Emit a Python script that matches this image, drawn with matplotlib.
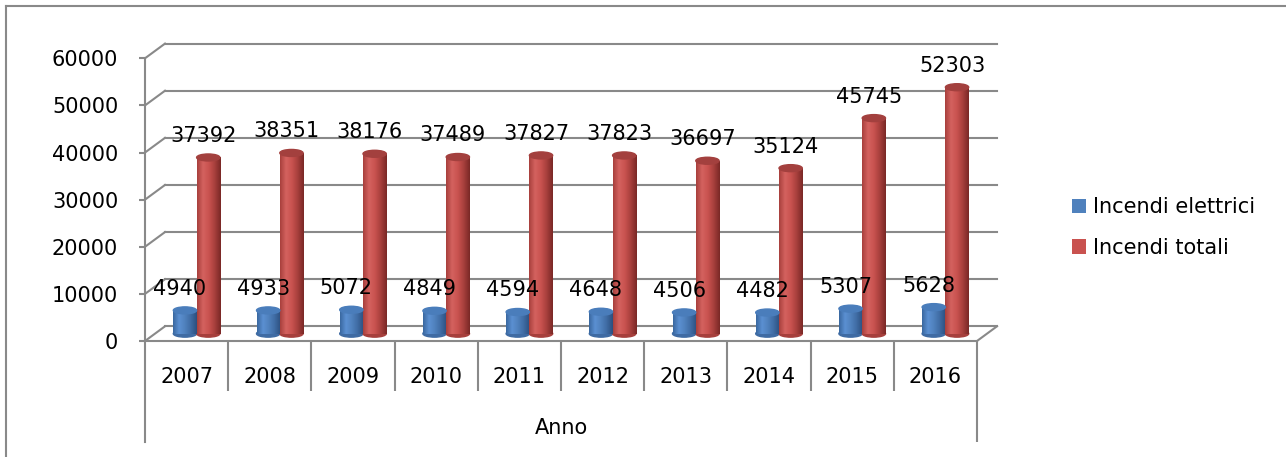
import matplotlib.pyplot as plt
import numpy as np
from matplotlib.patches import Ellipse, Patch
from matplotlib.lines import Line2D
from matplotlib.colors import LinearSegmentedColormap

anni = ["2007", "2008", "2009", "2010", "2011", "2012", "2013", "2014", "2015", "2016"]
elettrici = [4940, 4933, 5072, 4849, 4594, 4648, 4506, 4482, 5307, 5628]
totali = [37392, 38351, 38176, 37489, 37827, 37823, 36697, 35124, 45745, 52303]
serie = ["Incendi elettrici", "Incendi totali"]
yticks = [0, 10000, 20000, 30000, 40000, 50000, 60000]
titolo_x = "Anno"

W, H = 1286, 457
plt.rcParams['font.family'] = 'DejaVu Sans'
plt.rcParams['font.size'] = 15
fig = plt.figure(figsize=(W / 100, H / 100), dpi=100)

# layout in pixel (dall'alto)
left_px, right_px = 145, 977
bottom_px, top_px = 442, 40
zero_px = 341
px_per_unit = 282.7 / 60000

ax = fig.add_axes([left_px / W, (H - bottom_px) / H,
                   (right_px - left_px) / W, (bottom_px - top_px) / H])
ylo = -(bottom_px - zero_px) / px_per_unit
yhi = (zero_px - top_px) / px_per_unit
n = len(anni)
cat_px = (right_px - left_px) / n
dx = 20 / cat_px
dy = 14.7 / px_per_unit
grigio = '#898989'
lw = 1.5

# pareti 3D: griglia sul fondo + diagonali
for v in yticks:
    ax.plot([dx, n + dx], [v + dy, v + dy], color=grigio, lw=lw, zorder=1, clip_on=False)
    ax.plot([0, dx], [v, v + dy], color=grigio, lw=lw, zorder=1, clip_on=False)
# pavimento
ax.plot([0, n], [0, 0], color=grigio, lw=lw, zorder=1, clip_on=False)
ax.plot([n, n + dx], [0, dy], color=grigio, lw=lw, zorder=1, clip_on=False)

# separatori categorie
ysep = -(391 - zero_px) / px_per_unit
ax.vlines(range(1, n), ysep, 0, color=grigio, lw=lw, clip_on=False)
ax.vlines([n], ylo, 0, color=grigio, lw=lw, clip_on=False)

bw = 0.28
eh = 7 / px_per_unit
grad = np.linspace(0, 1, 64).reshape(1, -1)
blu = ['#3a68a0', '#5b90d2', '#4f81bd', '#3f6ba3', '#2c4f7e']
rosso = ['#a8403d', '#d4625f', '#c9524f', '#a63f3c', '#7a2826']


def cilindro(xl, val, colori, cap):
    base = dy / 2
    top = val + dy / 2
    cmap = LinearSegmentedColormap.from_list('c', colori)
    ax.add_patch(Ellipse((xl + bw / 2, base), bw, eh, color=colori[3], zorder=3))
    rect = ax.bar(xl, val, bw, bottom=base, align='edge', color='none', zorder=4)[0]
    im = ax.imshow(grad, cmap=cmap, extent=[xl, xl + bw, base, top], aspect='auto', zorder=4)
    im.set_clip_path(rect)
    ax.add_patch(Ellipse((xl + bw / 2, top), bw, eh, color=cap, zorder=5))
    ax.annotate(str(val), xy=(xl + bw / 2, top), xytext=(-5, 15.6),
                textcoords='offset pixels', ha='center', va='baseline', zorder=6)


for i in range(n):
    c = i + 0.5 + dx / 2
    cilindro(c - bw, elettrici[i], blu, '#4a7dbb')
    cilindro(c, totali[i], rosso, '#a3403e')

# etichette categorie
ycat = -(382.7 - zero_px) / px_per_unit
for i, a in enumerate(anni):
    ax.text(i + 0.5, ycat, a, ha='center', va='baseline')
ax.text(n / 2, -(434.5 - zero_px) / px_per_unit, titolo_x, ha='center', va='baseline')

ax.set_xlim(0, n)
ax.set_ylim(ylo, yhi)
for s in ['top', 'right', 'bottom']:
    ax.spines[s].set_visible(False)
ax.spines['left'].set_bounds(ylo, 60000)
ax.spines['left'].set_color(grigio)
ax.spines['left'].set_linewidth(lw)
ax.set_xticks([])
ax.set_yticks(yticks)
ax.tick_params(axis='y', length=4.3, width=lw, color=grigio, pad=15, labelsize=15)
ax.patch.set_visible(False)

fig.legend(handles=[Patch(facecolor=blu[2]), Patch(facecolor=rosso[2])], labels=serie,
           loc='upper left', bbox_to_anchor=(1072 / W, 1 - 197 / H), frameon=False,
           borderpad=0, borderaxespad=0, handlelength=0.67, handleheight=0.67,
           handletextpad=0.35, labelspacing=1.0, fontsize=15)

# cornice dell'area grafico (bordo superiore e sinistro)
fx, fy = 6 / W, 1 - 6 / H
fig.add_artist(Line2D([fx, 1.0], [fy, fy], transform=fig.transFigure, color=grigio, lw=lw))
fig.add_artist(Line2D([fx, fx], [0.0, fy], transform=fig.transFigure, color=grigio, lw=lw))

fig.savefig('out.png', dpi=100)
